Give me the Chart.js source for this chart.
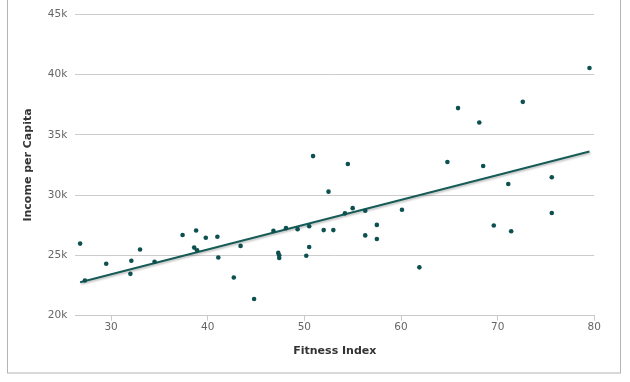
<!DOCTYPE html>
<html>
<head>
<meta charset="utf-8">
<script src="https://cdn.jsdelivr.net/npm/chart.js@4"></script>
<style>
  html, body { margin: 0; padding: 0; background: #fff; }
  #wrap { width: 630px; height: 382px; position: relative; }
</style>
</head>
<body>
<div id="wrap"><canvas id="scatter-chart" width="630" height="382"></canvas></div>
<script>
// datos
const fitness = [26.8, 27.3, 29.5, 32.1, 32.0, 33.0, 34.5, 37.4, 38.6, 38.8, 38.9, 39.8, 41.0, 41.1, 42.7, 43.4, 44.8,
  46.8, 47.3, 47.4, 47.4, 48.1, 49.3, 50.2, 50.5, 50.5, 50.9, 52.0, 52.5, 53.0, 54.2, 54.5, 55.0, 56.3, 56.3,
  57.5, 57.5, 60.1, 61.9, 64.8, 65.9, 68.1, 68.5, 69.6, 71.1, 71.4, 72.6, 75.6, 75.6, 79.5];
const income = [25980, 22920, 24310, 24560, 23470, 25490, 24480, 26690, 25650, 27070, 25430, 26470, 26550, 24830, 23170, 25790, 21390,
  27040, 25210, 25020, 24780, 27260, 27180, 24970, 25700, 27420, 33240, 27100, 30290, 27100, 28490, 32580, 28920, 28710, 26660,
  27530, 26360, 28790, 24010, 32750, 37220, 36020, 32420, 27480, 30920, 27010, 37740, 31490, 28520, 40550];
const trendX = [26.8, 79.5];
const trendY = [22780, 33620];
const xTicks = [30, 40, 50, 60, 70, 80];
const yTicks = [20000, 25000, 30000, 35000, 40000, 45000];

const points = fitness.map((x, i) => ({ x: x, y: income[i] }));
const trend = trendX.map((x, i) => ({ x: x, y: trendY[i] }));

// marco gris alrededor del grafico
const marco = {
  id: 'marco',
  beforeDraw(chart) {
    const ctx = chart.ctx;
    ctx.save();
    ctx.strokeStyle = '#b4b4b4';
    ctx.lineWidth = 1;
    ctx.strokeRect(7.5, -5, 613, 378);
    ctx.restore();
  }
};

// sombra de la linea de tendencia
const sombra = {
  id: 'sombra',
  beforeDatasetDraw(chart, args) {
    if (args.index !== 1) return;
    const ctx = chart.ctx;
    ctx.save();
    ctx.shadowColor = 'rgba(0,0,0,0.25)';
    ctx.shadowOffsetX = 1;
    ctx.shadowOffsetY = 1.5;
    ctx.shadowBlur = 2;
  },
  afterDatasetDraw(chart, args) {
    if (args.index !== 1) return;
    chart.ctx.restore();
  }
};

new Chart(document.getElementById('scatter-chart'), {
  type: 'scatter',
  data: {
    datasets: [
      {
        label: 'Estados',
        data: points,
        backgroundColor: '#0d5050',
        borderWidth: 0,
        pointRadius: 2.3
      },
      {
        label: 'Tendencia',
        data: trend,
        showLine: true,
        borderColor: '#175b57',
        borderWidth: 2,
        pointRadius: 0
      }
    ]
  },
  options: {
    responsive: false,
    animation: false,
    layout: { padding: { left: 0, top: 0, bottom: 0, right: 35.7 } },
    plugins: {
      legend: { display: false },
      tooltip: { enabled: false }
    },
    scales: {
      x: {
        type: 'linear',
        min: 26.3,
        max: 80,
        afterBuildTicks: s => { s.ticks = xTicks.map(v => ({ value: v })); },
        afterFit: s => { s.height = 66.3; },
        grid: { drawOnChartArea: false, drawTicks: true, tickLength: 5, color: '#c0ccd8' },
        border: { color: '#c8c8c8' },
        ticks: { color: '#666', font: { family: 'DejaVu Sans', size: 10.5 }, padding: 0, maxRotation: 0 },
        title: {
          display: true,
          text: 'Fitness Index',
          color: '#333',
          font: { family: 'DejaVu Sans', size: 11, weight: 'bold' },
          padding: { top: 0, bottom: 24 }
        }
      },
      y: {
        min: 20000,
        max: 45000,
        afterBuildTicks: s => { s.ticks = yTicks.map(v => ({ value: v })); },
        afterFit: s => { s.width = 75.3; },
        grid: { drawTicks: false, color: '#cccccc' },
        border: { display: false },
        ticks: {
          color: '#666',
          font: { family: 'DejaVu Sans', size: 10.5 },
          padding: 8,
          callback: v => (v / 1000) + 'k'
        },
        title: {
          display: true,
          text: 'Income per Capita',
          color: '#333',
          font: { family: 'DejaVu Sans', size: 11, weight: 'bold' },
          padding: { top: 22, bottom: 0 }
        }
      }
    }
  },
  plugins: [marco, sombra]
});
</script>
</body>
</html>
